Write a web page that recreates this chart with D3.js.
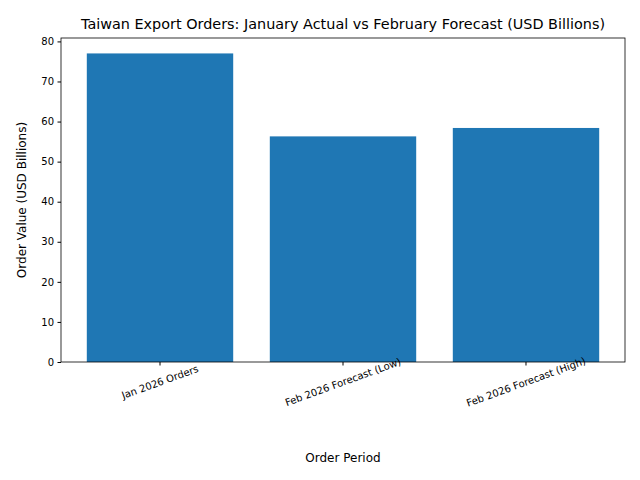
<!DOCTYPE html>
<html><head><meta charset="utf-8">
<script src="https://cdn.jsdelivr.net/npm/d3@7"></script>
<style>body{margin:0;background:#fff}svg{font-family:"DejaVu Sans",sans-serif}</style>
</head><body><svg id="chart" width="640" height="480"></svg>
<script>
const categories = ['Jan 2026 Orders', 'Feb 2026 Forecast (Low)', 'Feb 2026 Forecast (High)'];
const values = [77.0, 56.3, 58.4];
const yTicks = [0, 10, 20, 30, 40, 50, 60, 70, 80];

const svg = d3.select('#chart');
const mLeft = 61, mRight = 625, mTop = 38, mBottom = 362;

const x = d3.scaleBand().domain(categories).range([mLeft, mRight]).paddingInner(0.2).paddingOuter(0.141);
const y = d3.scaleLinear().domain([0, 77.0 * 1.05]).range([mBottom, mTop]);

svg.selectAll('.bar').data(values).enter().append('rect')
  .attr('x', (d, i) => x(categories[i]))
  .attr('y', d => y(d))
  .attr('width', x.bandwidth())
  .attr('height', d => mBottom - y(d))
  .attr('fill', '#1f77b4');

const ya = svg.append('g').attr('transform', `translate(${mLeft},0)`)
  .call(d3.axisLeft(y).tickValues(yTicks).tickSize(3.5).tickPadding(3.5));
const xa = svg.append('g').attr('transform', `translate(0,${mBottom})`)
  .call(d3.axisBottom(x).tickSize(3.5).tickPadding(3.5));
[ya, xa].forEach(a => {
  a.select('.domain').remove();
  a.selectAll('text').attr('font-size', 10).attr('fill', '#000').attr('font-family', 'DejaVu Sans');
  a.selectAll('line').attr('stroke', '#000');
});
xa.selectAll('text').attr('text-anchor', 'middle')
  .attr('y', 0).attr('dy', '0.35em')
  .attr('transform', 'translate(0,20) rotate(-20)');

svg.append('rect').attr('x', mLeft).attr('y', mTop).attr('width', mRight - mLeft).attr('height', mBottom - mTop)
  .attr('fill', 'none').attr('stroke', '#000').attr('stroke-width', 0.8);

svg.append('text').attr('x', 343).attr('y', 29).attr('text-anchor', 'middle').attr('font-size', 14.4)
  .text('Taiwan Export Orders: January Actual vs February Forecast (USD Billions)');
svg.append('text').attr('x', 343).attr('y', 462).attr('text-anchor', 'middle').attr('font-size', 12)
  .text('Order Period');
svg.append('text').attr('transform', `translate(26,${(mTop + mBottom) / 2}) rotate(-90)`)
  .attr('text-anchor', 'middle').attr('font-size', 12).text('Order Value (USD Billions)');
</script></body></html>
